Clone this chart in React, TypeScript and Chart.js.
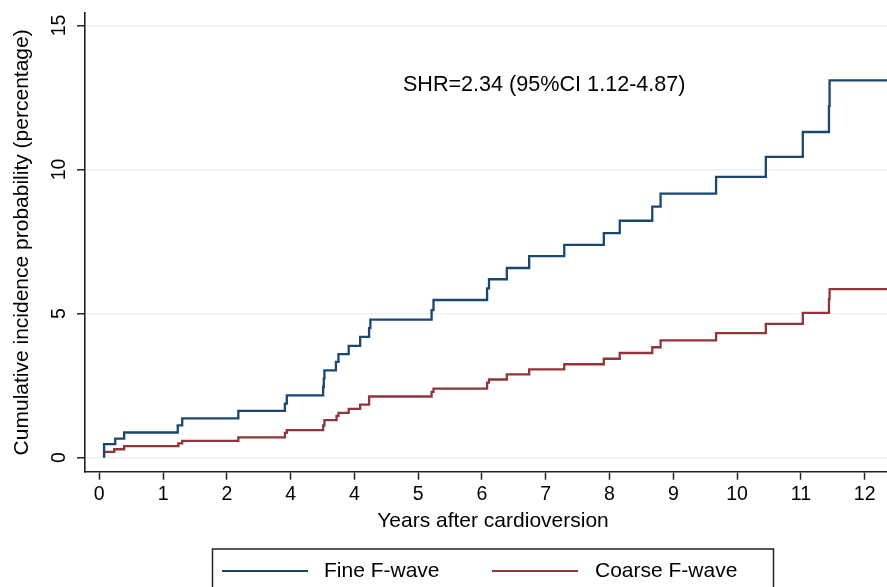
import React, { useEffect, useRef } from 'react';
import { Chart, registerables } from 'chart.js';

Chart.register(...registerables);

// Step points: at each x the cumulative incidence jumps to y
const fineX = [0.075, 0.075, 0.25, 0.39, 1.23, 1.30, 2.18, 2.91, 2.94, 3.51, 3.52, 3.53, 3.71, 3.75, 3.91, 4.09, 4.23, 4.25, 5.21, 5.24, 6.08, 6.11, 6.39, 6.74, 7.29, 7.91, 8.16, 8.67, 8.80, 9.67, 10.45, 11.03, 11.44, 11.45, 12.35];
const fineY = [0, 0.47, 0.66, 0.87, 1.12, 1.36, 1.62, 1.87, 2.16, 2.45, 2.75, 3.03, 3.32, 3.59, 3.88, 4.19, 4.49, 4.79, 5.12, 5.47, 5.87, 6.19, 6.58, 6.99, 7.38, 7.79, 8.22, 8.71, 9.16, 9.74, 10.44, 11.30, 12.2, 13.09, 13.09];

const coarseX = [0.075, 0.075, 0.235, 0.39, 1.24, 1.30, 2.18, 2.91, 2.94, 3.51, 3.53, 3.72, 3.75, 3.91, 4.09, 4.23, 5.21, 5.24, 6.08, 6.11, 6.39, 6.74, 7.29, 7.91, 8.16, 8.67, 8.80, 9.67, 10.45, 11.03, 11.44, 11.45, 12.35];
const coarseY = [0, 0.20, 0.29, 0.40, 0.49, 0.58, 0.70, 0.86, 0.95, 1.12, 1.30, 1.45, 1.55, 1.69, 1.84, 2.12, 2.28, 2.39, 2.60, 2.71, 2.89, 3.06, 3.24, 3.43, 3.63, 3.83, 4.07, 4.32, 4.64, 5.02, 5.5, 5.85, 5.85];

const seriesNames = ['Fine F-wave', 'Coarse F-wave'];
const seriesColors = ['#1a476f', '#90353b'];

const xTickValues = [0, 1, 2, 3, 4, 5, 6, 7, 8, 9, 10, 11, 12];
const xTickLabels = ['0', '1', '2', '4', '4', '5', '6', '7', '8', '9', '10', '11', '12'];
const yTickValues = [0, 5, 10, 15];
const yTickLabels = ['0', '5', '10', '15'];

const xTitle = 'Years after cardioversion';
const yTitle = 'Cumulative incidence probability (percentage)';
const annotationText = 'SHR=2.34 (95%CI 1.12-4.87)';
const annotationX = 4.76;
const annotationY = 12.93;

const FONT = '"Liberation Sans", Arial, Helvetica, sans-serif';

const overlayPlugin = {
  id: 'overlay',
  afterDraw(chart: any) {
    const ctx = chart.ctx as CanvasRenderingContext2D;
    const xs = chart.scales.x;
    const ys = chart.scales.y;
    ctx.save();
    ctx.fillStyle = '#000';
    ctx.textBaseline = 'middle';

    // annotation
    ctx.font = `21.6px ${FONT}`;
    ctx.textAlign = 'left';
    ctx.fillText(annotationText, xs.getPixelForValue(annotationX), ys.getPixelForValue(annotationY));

    // x axis title
    ctx.font = `21px ${FONT}`;
    ctx.textAlign = 'center';
    ctx.fillText(xTitle, 493, 521);

    // legend box
    ctx.textAlign = 'left';
    ctx.strokeStyle = '#222';
    ctx.lineWidth = 1.5;
    ctx.strokeRect(212.5, 549, 561, 70);
    const ly = 571;
    const items = [
      { x0: 222, x1: 308, tx: 324 },
      { x0: 492, x1: 578, tx: 595 },
    ];
    items.forEach((it, i) => {
      ctx.strokeStyle = seriesColors[i];
      ctx.lineWidth = 2.2;
      ctx.beginPath();
      ctx.moveTo(it.x0, ly);
      ctx.lineTo(it.x1, ly);
      ctx.stroke();
      ctx.fillStyle = '#000';
      ctx.fillText(seriesNames[i], it.tx, ly);
    });
    ctx.restore();
  },
};

export default function App() {
  const canvasRef = useRef<HTMLCanvasElement | null>(null);

  useEffect(() => {
    const canvas = canvasRef.current;
    if (!canvas) return;
    const fineData = fineX.map((x, i) => ({ x, y: fineY[i] }));
    const coarseData = coarseX.map((x, i) => ({ x, y: coarseY[i] }));

    const chart = new Chart(canvas, {
      type: 'line',
      data: {
        datasets: [
          {
            label: seriesNames[0],
            data: fineData,
            borderColor: seriesColors[0],
            borderWidth: 2.3,
            pointRadius: 0,
            stepped: 'before',
            fill: false,
          },
          {
            label: seriesNames[1],
            data: coarseData,
            borderColor: seriesColors[1],
            borderWidth: 2.3,
            pointRadius: 0,
            stepped: 'before',
            fill: false,
          },
        ],
      },
      options: {
        responsive: false,
        animation: false,
        devicePixelRatio: 1,
        layout: { padding: { top: 13, right: 0, left: 0, bottom: 0 } },
        plugins: {
          legend: { display: false },
          tooltip: { enabled: false },
        },
        scales: {
          x: {
            type: 'linear',
            min: -0.224,
            max: 12.35,
            afterBuildTicks: (s: any) => {
              s.ticks = xTickValues.map((v) => ({ value: v }));
            },
            afterFit: (s: any) => {
              s.height = 587 - 471.7;
              s.paddingLeft = 0;
              s.paddingRight = 0;
            },
            grid: {
              display: true,
              drawOnChartArea: false,
              drawTicks: true,
              tickLength: 8,
              tickColor: '#222',
              tickWidth: 1.5,
            },
            border: { display: true, color: '#222', width: 1.6 },
            ticks: {
              autoSkip: false,
              maxRotation: 0,
              minRotation: 0,
              padding: 3,
              color: '#000',
              font: { family: FONT, size: 19.5 },
              callback: (v: any) => {
                const idx = xTickValues.indexOf(Number(v));
                return idx >= 0 ? xTickLabels[idx] : '';
              },
            },
            title: { display: false, text: xTitle },
          },
          y: {
            type: 'linear',
            min: -0.49,
            max: 15.43,
            afterBuildTicks: (s: any) => {
              s.ticks = yTickValues.map((v) => ({ value: v }));
            },
            afterFit: (s: any) => {
              s.width = 85;
              s.paddingTop = 0;
              s.paddingBottom = 0;
            },
            grid: {
              display: true,
              drawOnChartArea: true,
              color: '#eaf2f3',
              lineWidth: 1.5,
              drawTicks: true,
              tickLength: 8,
              tickColor: '#222',
              tickWidth: 1.5,
            },
            border: { display: true, color: '#222', width: 1.6 },
            ticks: {
              autoSkip: false,
              minRotation: 90,
              maxRotation: 90,
              crossAlign: 'center',
              padding: 7,
              color: '#000',
              font: { family: FONT, size: 19.5 },
              callback: (v: any) => {
                const idx = yTickValues.indexOf(Number(v));
                return idx >= 0 ? yTickLabels[idx] : '';
              },
            },
            title: {
              display: true,
              text: yTitle,
              color: '#000',
              font: { family: FONT, size: 21 },
              padding: { top: 9.2, bottom: 0 },
            },
          },
        },
      } as any,
      plugins: [overlayPlugin],
    });

    return () => {
      chart.destroy();
    };
  }, []);

  return (
    <div style={{ position: 'absolute', left: 0, top: 0, width: 887, height: 587, background: '#fff' }}>
      <canvas ref={canvasRef} width={887} height={587} style={{ display: 'block', width: 887, height: 587 }} />
    </div>
  );
}
